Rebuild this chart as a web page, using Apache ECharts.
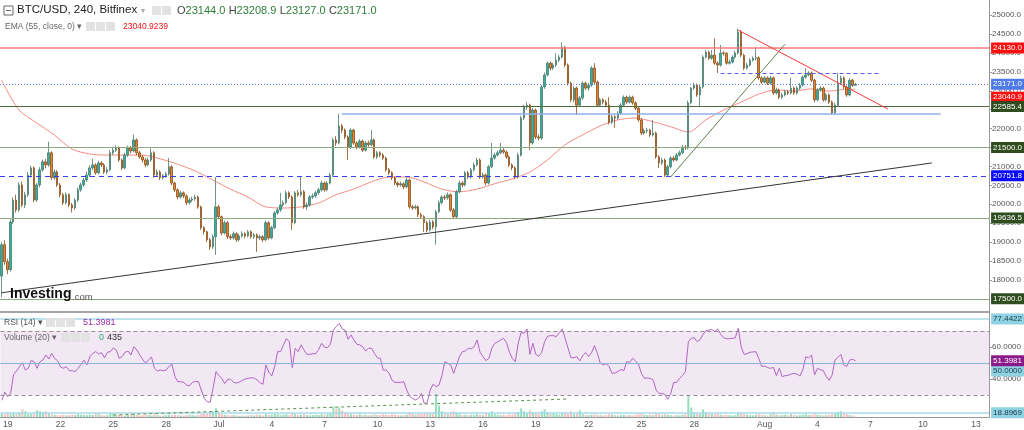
<!DOCTYPE html>
<html><head><meta charset="utf-8">
<script src="https://cdn.jsdelivr.net/npm/echarts@6/dist/echarts.min.js"></script>
<style>html,body{margin:0;padding:0;background:#fff}#c{width:1024px;height:430px}</style>
</head><body><div id="c"></div>
<script>
// ---------------- DATA ----------------
const firstOpen = 18100;
const closes = [18930,18480,18270,19530,20110,19850,20510,19980,20250,20770,
20960,20110,20510,20910,21120,21040,21360,20700,20850,20510,
20250,20040,20250,19980,19900,20110,20380,20510,20640,20770,
20960,21040,20830,21090,21040,20850,20910,21360,21430,21490,
21170,20960,21300,21490,21410,21700,21360,21250,21170,21040,
21170,21360,20770,20850,20700,20750,20800,20990,20560,20380,
20190,20300,20220,20040,20110,20140,20190,19930,19380,19270,
19060,18870,19140,19930,19670,19240,19510,19140,19110,19220,
19060,19160,19220,19160,19270,19140,19190,19110,19140,19060,
19510,19110,19380,19770,19850,19980,20040,20300,20190,19510,
20300,20250,20330,19930,19980,20190,20220,20300,20380,20560,
20380,20560,20770,21700,21620,22070,21960,21780,21510,21960,
21620,21510,21670,21430,21620,21570,21700,21250,21360,21300,
21220,20910,20830,20700,20560,20510,20540,20460,20640,19930,
19900,19930,19720,19670,19510,19320,19530,19400,19800,20040,
20190,20170,20250,19850,19670,20330,20560,20510,20830,20720,
20910,21040,21170,20720,20770,20560,20990,21220,21300,21360,
21430,21380,21250,21040,20960,20720,21300,22280,22570,22620,
21620,22490,21780,21750,23100,23420,23730,23600,23680,23810,
23890,24150,23680,23200,22760,23070,22620,22810,23200,23070,
23150,23600,23230,22620,22760,22700,22620,22170,22310,22280,
22410,22620,22830,22700,22830,22680,22540,22230,21880,21940,
21960,21830,21880,21250,21090,21170,20770,20990,21220,21170,
21300,21360,21510,21490,22680,23070,23150,22890,23100,23890,
24020,23860,23940,23730,23680,24000,23990,23730,23760,23890,
24000,24550,23940,23600,23680,23810,23860,23870,23340,23230,
23340,23200,23340,22940,23020,22830,22890,22970,22940,23070,
22940,23070,23150,23360,23420,23470,23280,22760,23020,23070,
22760,22890,22700,22410,22620,23200,23340,23100,22890,23280,
23144,23171];
const highs = [18990,19050,18560,19600,20180,20250,20580,20600,20330,20850,
21020,21000,20560,20980,21180,21200,21650,21400,20920,20900,
20560,20300,20310,20290,20030,20160,20440,20570,20700,20860,
21030,21200,21080,21150,21140,21080,20980,21430,21520,21560,
21530,21210,21360,21550,21540,21840,21740,21410,21300,21220,
21230,21480,21400,20920,20900,20800,20860,21220,21030,20600,
20420,20360,20340,20260,20170,20200,20250,20230,19960,19420,
19300,19110,19200,20720,19980,19700,19570,19550,19200,19280,
19260,19210,19280,19260,19320,19310,19240,19230,19190,19180,
19570,19550,19430,19820,19910,20300,20100,20360,20340,20230,
20350,20380,20720,20380,20050,20240,20280,20350,20430,20620,
20600,20610,20830,21760,21800,22390,22120,22000,21820,22010,
21990,21660,21720,21710,21670,21680,21960,21740,21410,21400,
21350,21260,20960,20870,20740,20600,20600,20580,20700,20680,
19980,19990,19970,19780,19710,19560,19590,19580,19850,20100,
20240,20250,20310,20290,19900,20380,20620,20620,20880,20880,
20960,21100,21230,21210,20830,20810,21040,21620,21360,21420,
21620,21480,21420,21290,21080,21000,21360,22340,22630,22700,
22660,22550,22530,21850,23150,23480,23770,23770,23740,23990,
23950,24280,24190,23720,23240,23120,23110,22860,23250,23240,
23210,23650,23730,23270,22810,22800,22760,22830,22360,22360,
22460,22670,22880,22870,22880,22870,22720,22580,22270,22000,
22020,22000,22230,21920,21300,21230,21210,21040,21270,21280,
21350,21420,21570,21560,22740,23100,23210,23190,23160,23940,
24080,24060,24080,24390,23780,24210,24050,24020,23820,23940,
24060,24650,24600,23980,23740,23860,23910,24150,23910,23380,
23390,23380,23400,23380,23080,23060,22950,23030,23020,23340,
23110,23120,23200,23410,23600,23520,23510,23320,23070,23120,
23110,22940,22930,22740,22680,23470,23400,23380,23140,23330,
23310,23208.9];
const lows = [17540,18400,18150,18220,19480,19780,19800,19920,19900,20200,
20700,20050,20060,20450,20860,20950,20990,20640,20650,20460,
20180,19980,19990,19920,19780,19850,20060,20330,20460,20590,
20720,20900,20780,20790,20980,20800,20790,20870,21300,21380,
21120,20900,20920,21250,21350,21370,21300,21200,21100,20980,
21000,21120,20700,20720,20640,20650,20700,20760,20500,20320,
20130,20150,20160,19980,19990,20060,20090,19880,19320,19200,
19000,18790,18820,18660,19600,19180,19200,19080,19050,19060,
19000,19010,19120,19100,19120,19090,19080,18740,19050,19000,
19020,19060,19070,19340,19720,19800,19930,20000,20140,19320,
19470,20200,20200,19880,19850,19940,20140,20170,20250,20330,
20330,20340,20520,20730,21540,21580,21880,21720,21170,21460,
21570,21450,21470,21380,21390,21520,21530,21200,21200,21240,
21170,20860,20770,20640,20500,20450,20470,20400,20420,19880,
19850,19860,19660,19620,19270,19260,19280,19340,18930,19760,
20000,20110,20120,19800,19610,19630,20290,20450,20470,20670,
20680,20870,21000,20670,20680,20500,20520,20950,21180,21260,
21320,21330,21200,20980,20900,20660,20680,21260,22230,22500,
21430,21580,21720,21690,21700,23050,23380,23540,23550,23630,
23760,23850,23620,23140,22700,22700,22360,22580,22760,23020,
23000,23100,23180,22570,22580,22640,22560,22110,22120,22020,
22230,22370,22580,22650,22660,22630,22490,22180,21830,21840,
21880,21780,21790,21200,20960,21040,20720,20720,20950,21120,
21130,21260,21320,21440,21450,22640,23020,22840,22570,23060,
23850,23810,23820,23690,23470,23640,23930,23690,23690,23720,
23850,23960,23890,23550,23560,23640,23770,23800,23290,23180,
23190,23150,23160,22890,22900,22780,22780,22850,22890,22900,
22890,22900,23020,23110,23320,23380,23230,22700,22720,22980,
22710,22720,22650,22360,22370,22580,23160,23050,22840,22850,
23100,23127];
const rsiValues = [26.7,31.7,29,31,42.9,45,47.7,50.2,45.6,46.7,
51.7,50.8,46.7,50.8,51.9,55,52.5,56,52.9,51.3,
47.5,46.7,47.7,45.2,45.2,44.6,46.7,49.2,51.7,48.8,
54,56,57.1,55.6,56.5,53.3,56.7,57.1,59.4,58.1,
52.9,54,56.7,57.5,55,60.2,58.1,55,52.3,49.8,
51.9,53.8,46.7,45,45.6,45.2,45.6,47.9,49.2,41.5,
38.3,38.3,37.9,36.2,35.8,37.9,38.5,38.3,33.1,27.9,
25.8,25.4,34.2,44.6,42.1,40.4,37.1,40,39.8,37.9,
37.5,38.1,39.2,40,40.4,40.8,40.6,39.4,37.7,36.7,
48.8,44.2,41.9,47.7,57.1,57.1,61.3,65.2,63.3,47.1,
59.2,57.1,61.3,58.1,55.4,55.4,55.8,55.8,58.5,62.3,
59.8,59.6,61.9,70.6,72.7,74.8,71.3,70.6,64.8,67.5,
64.4,61.7,61.3,60.2,57.5,59.2,59.2,56,53.3,52.9,
45.6,45.6,43.5,39.2,37.9,37.9,37.9,38.3,33.1,29.2,
27.9,26.9,27.9,31,24.6,25.4,33.1,36.7,35.2,36.2,
42.1,50.8,49.8,48.8,43.5,48.8,54,57.1,57.5,59.2,
58.8,60.2,64.4,56.7,54,51.5,52.9,59.2,62.3,63.3,
64.4,65.4,62.9,56.7,52.9,50.8,62.3,69.2,68.5,71.3,
55.4,62.3,55.4,54.2,56.5,63.3,66.7,67.1,67.1,66.5,
68.9,71.3,65.4,59.2,53.3,53.3,54,51.3,54.6,56.5,
54,56.5,60.8,56,49.8,48.9,49.6,47.7,43.5,43.8,
44.6,46,45.2,50.8,50.4,52.9,51.3,49.2,43.5,40.4,
40.6,40.4,39.4,33.1,31,31,30.4,27.3,31,37.9,
37.9,40.4,42.1,44.6,63.3,65.4,65.8,63.3,64.6,67.9,
70.2,70.6,71,69.6,71.3,67.9,65.8,65.2,65.2,65.4,
65.8,71.7,60.2,55.4,55.8,56.7,56.9,57.1,52.9,47.9,
48.1,47.1,46.7,47.3,42.1,46.7,41.5,42.1,42.3,43.1,
43.5,43.1,41.9,45.6,53.8,53.3,55,42.5,46.7,45.8,
45.2,41.5,39.2,42.5,51.9,53.5,55.4,48.8,47.9,51.9,
52.3,51.4];
const volumes = [20,15,25,15,20,15,25,40,30,15,
15,20,35,30,25,30,20,15,12,10,
10,12,8,10,12,10,15,12,10,10,
12,10,20,15,10,8,10,22,18,10,
12,10,8,10,12,18,10,8,10,12,
10,8,15,10,8,8,10,12,10,12,
10,8,8,10,12,10,8,12,15,20,
18,25,30,45,20,15,12,10,8,10,
8,6,8,6,8,10,8,12,10,8,
15,10,12,18,15,10,12,15,10,20,
18,10,12,15,10,8,10,12,10,15,
12,15,20,55,45,50,35,25,20,15,
12,10,15,10,12,8,10,15,10,12,
15,12,10,15,12,10,8,10,12,25,
20,12,18,15,20,25,15,20,120,60,
30,20,15,25,30,25,15,10,12,10,
12,10,15,12,10,15,20,30,15,12,
10,12,10,15,12,18,25,45,30,20,
35,25,20,15,30,40,25,15,20,15,
12,20,25,15,30,15,20,35,15,12,
10,12,15,12,10,8,10,15,12,10,
8,10,12,8,10,8,12,15,18,12,
10,12,10,20,15,10,15,12,10,8,
10,8,12,15,110,50,25,20,15,40,
25,20,15,15,20,12,10,12,10,8,
10,25,20,15,12,10,8,12,15,12,
10,8,15,25,12,10,10,12,10,15,
10,8,10,12,15,10,12,15,12,10,
8,10,12,15,20,25,30,20,15,10,
8,2];
// EMA(55) read once per day (every 6th 4h candle), plus the last value
const emaDaily = [23280,22490,22150,21830,21460,21330,21300,21300,21300,21200,
21060,20880,20640,20400,20190,19930,19900,19930,20030,20250,
20400,20590,20720,20720,20590,20400,20330,20400,20540,20670,
20850,21170,21570,21830,22070,22230,22280,22180,22050,21910,
22230,22490,22700,22910,23020,22990,23050,22990,23040];
const emaLast = 23040.9;
const tickLabels = ['19','22','25','28','Jul','4','7','10','13','16','19','22','25','28','Aug','4','7','10','13'];
const tickDayOffsets = [0,3,6,9,12,15,18,21,24,27,30,33,36,39,43,46,49,52,55];
const priceTicks = [18000,18500,19000,19500,20000,20500,21000,21500,22000,22500,23000,23500,24000,24500,25000];
const levelValues = [24130, 23171, 23040.9, 22585.4, 21500, 20751.8, 19636.5, 17500];
const levelTexts = ['24130.0','23171.0','23040.9','22585.4','21500.0','20751.8','19636.5','17500.0'];
const rsiLevels = [77.4422, 70, 50, 51.3981, 30, 18.8969];
// drawings: [startIndex, startValue, endIndex, endValue]
const supportLine = [0, 17658, 317, 21091];
const riseLine = [228, 20721, 267, 24234];
const fallLine = [251, 24604, 302, 22517];
const rangeTop = [245, 23468, 299, 23468];
const julyHigh = [116, 22385, 320, 22385];
const volTrend = [38, 17.5, 193, 27.5];

// ---------------- BUILD ----------------
const SLOTS = 337;
const cats = [];
const t0 = Date.UTC(2022, 5, 18, 16);
for (let i = 0; i < SLOTS; i++) cats.push(new Date(t0 + i * 4 * 3600e3).toISOString().slice(0, 16));
const labelMap = {};
tickDayOffsets.forEach((d, i) => { labelMap[2 + 6 * d] = tickLabels[i]; });

const candleData = closes.map((c, i) => {
  const o = i === 0 ? firstOpen : closes[i - 1];
  return [o, c, lows[i], highs[i]];
});
const emaData = new Array(closes.length).fill(null);
emaDaily.forEach((v, j) => { emaData[j * 6] = v; });
emaData[closes.length - 1] = emaLast;
const volData = volumes.map((v, i) => {
  const up = candleData[i][1] >= candleData[i][0];
  return { value: v, itemStyle: { color: up ? 'rgba(40,190,120,0.5)' : 'rgba(245,110,110,0.45)' } };
});

const FONT = 'Liberation Sans, Arial, sans-serif';
const HIDDEN = { color: 'rgba(0,0,0,0)', width: 1 };
const badge = (text, bg, fg, off) => ({
  show: true, position: 'end', distance: 2, formatter: text,
  backgroundColor: bg, color: fg || '#fff', fontSize: 8, fontFamily: FONT,
  padding: [2, 2, 1, 2], offset: off || [0, 0]
});
const levelStyles = [
  { line: { color: '#ff7b7b', width: 1.5, type: 'solid' }, bg: '#ff1010' },
  { line: { color: '#5a78e6', width: 1, type: [1, 2] }, bg: '#4f7be8' },
  { line: HIDDEN, bg: '#ff1010', off: [0, 8] },
  { line: { color: '#4d6b3c', width: 1.2, type: 'solid' }, bg: '#2f4d1f' },
  { line: { color: '#8fa97f', width: 1.2, type: 'solid' }, bg: '#2f4d1f' },
  { line: { color: '#3b3bf0', width: 1.2, type: [5, 4] }, bg: '#0a0aff' },
  { line: { color: '#8fa97f', width: 1.2, type: 'solid' }, bg: '#2f4d1f' },
  { line: { color: '#8fa97f', width: 1.2, type: 'solid' }, bg: '#2f4d1f' }
];
const priceMarks = levelValues.map((v, i) => ({
  yAxis: v, lineStyle: levelStyles[i].line,
  label: badge(levelTexts[i], levelStyles[i].bg, '#fff', levelStyles[i].off)
}));
const seg = (s, style) => [
  { coord: [s[0], s[1]], lineStyle: style, label: { show: false } },
  { coord: [s[2], s[3]] }
];
priceMarks.push(seg(supportLine, { color: '#333', width: 1, type: 'solid' }));
priceMarks.push(seg(riseLine, { color: '#5e7f4a', width: 1, type: 'solid' }));
priceMarks.push(seg(fallLine, { color: '#f03a3a', width: 1, type: 'solid' }));
priceMarks.push(seg(rangeTop, { color: '#5a5af0', width: 1, type: [4, 3] }));
priceMarks.push(seg(julyHigh, { color: '#8fb0ee', width: 1.5, type: 'solid' }));

const rsiStyles = [
  { line: { color: '#a8dbe8', width: 1.5, type: 'solid' }, bg: '#8fd2e2', fg: '#1a3a4a' },
  { line: { color: '#9a8a9a', width: 1, type: [4, 3] }, nolabel: true },
  { line: { color: '#8ab4df', width: 1, type: 'solid' }, bg: '#8fd2e2', fg: '#1a3a4a', off: [0, 8] },
  { line: HIDDEN, bg: '#8a1a8a', fg: '#fff' },
  { line: { color: '#9a8a9a', width: 1, type: [4, 3] }, nolabel: true },
  { line: { color: '#a8dbe8', width: 1.5, type: 'solid' }, bg: '#8fd2e2', fg: '#1a3a4a' }
];
const rsiMarks = rsiLevels.map((v, i) => ({
  yAxis: v, lineStyle: rsiStyles[i].line,
  label: rsiStyles[i].nolabel ? { show: false } : badge(v.toFixed(4), rsiStyles[i].bg, rsiStyles[i].fg, rsiStyles[i].off)
}));
rsiMarks.push(seg(volTrend, { color: '#5f8f4f', width: 1, type: [3, 3] }));

const chart = echarts.init(document.getElementById('c'), null, { renderer: 'canvas' });
const smallIcon = (x, y) => ({ type: 'rect', shape: { x: x, y: y, width: 9, height: 9 }, style: { fill: '#e2e2e2' }, z: 100 });
chart.setOption({
  animation: false,
  textStyle: { fontFamily: FONT },
  grid: [
    { left: 0, right: 34, top: 0, height: 312 },
    { left: 0, right: 34, top: 312, height: 105 }
  ],
  xAxis: [
    { type: 'category', gridIndex: 0, data: cats, boundaryGap: true,
      axisLine: { show: true, lineStyle: { color: '#888', width: 1.5 } },
      axisTick: { show: false }, axisLabel: { show: false }, splitLine: { show: false } },
    { type: 'category', gridIndex: 1, data: cats, boundaryGap: true,
      axisLine: { show: true, lineStyle: { color: '#999' } }, axisTick: { show: false },
      axisLabel: { interval: (i) => labelMap[i] !== undefined, formatter: (v, i) => labelMap[i] || '',
        color: '#555', fontSize: 8.5, margin: 3, fontFamily: FONT },
      splitLine: { show: false } }
  ],
  yAxis: [
    { type: 'value', gridIndex: 0, position: 'right', min: 17150, max: 25400,
      axisLine: { show: true, lineStyle: { color: '#999' } },
      axisTick: { show: true, length: 3, customValues: priceTicks, lineStyle: { color: '#999' } },
      axisLabel: { customValues: priceTicks, formatter: (v) => v.toFixed(1), color: '#555', fontSize: 8, margin: 3, fontFamily: FONT },
      splitLine: { show: false } },
    { type: 'value', gridIndex: 1, position: 'right', min: 16.25, max: 81.875,
      axisLine: { show: true, lineStyle: { color: '#999' } },
      axisTick: { show: true, length: 3, customValues: [40, 60], lineStyle: { color: '#999' } },
      axisLabel: { customValues: [40, 60], formatter: (v) => v.toFixed(4), color: '#555', fontSize: 8, margin: 3, fontFamily: FONT },
      splitLine: { show: false } },
    { type: 'value', gridIndex: 1, min: 0, max: 550, show: false }
  ],
  series: [
    { type: 'bar', xAxisIndex: 1, yAxisIndex: 2, data: volData, barWidth: 2, silent: true, z: 1 },
    { type: 'line', xAxisIndex: 1, yAxisIndex: 1, data: rsiValues, symbol: 'none', silent: true, z: 3,
      lineStyle: { color: '#b164c2', width: 1 },
      markArea: { silent: true, itemStyle: { color: 'rgba(196,150,205,0.22)' }, data: [[{ yAxis: 30 }, { yAxis: 70 }]] },
      markLine: { silent: true, symbol: ['none', 'none'], animation: false, data: rsiMarks } },
    { type: 'line', xAxisIndex: 0, yAxisIndex: 0, data: emaData, connectNulls: true, symbol: 'none', silent: true,
      smooth: 0.3, lineStyle: { color: '#f58a84', width: 1 }, z: 2 },
    { type: 'candlestick', xAxisIndex: 0, yAxisIndex: 0, data: candleData, barWidth: 2, silent: true, z: 3,
      itemStyle: { color: '#2bb5a0', color0: '#e3862c', borderColor: '#4e7a6c', borderColor0: '#8a4e1c', borderWidth: 0.8 },
      markLine: { silent: true, symbol: ['none', 'none'], animation: false, data: priceMarks } }
  ],
  graphic: [
    { type: 'rect', shape: { x: 4, y: 6, width: 9, height: 9 }, style: { fill: '#fff', stroke: '#666', lineWidth: 1 }, z: 100 },
    { type: 'rect', shape: { x: 6, y: 10, width: 5, height: 1 }, style: { fill: '#666' }, z: 100 },
    { type: 'text', x: 17, y: 4, z: 100, style: { text: 'BTC/USD, 240, Bitfinex', fontSize: 11.5, fontFamily: FONT, fill: '#222' } },
    { type: 'text', x: 141, y: 7, z: 100, style: { text: '▾', fontSize: 8, fill: '#aaa' } },
    smallIcon(152, 6), smallIcon(162, 6),
    { type: 'text', x: 177, y: 5, z: 100, style: { text: '{k|O}{v|23144.0} {k|H}{v|23208.9} {k|L}{v|23127.0} {k|C}{v|23171.0}',
      fontFamily: FONT, rich: { k: { fontSize: 11, fill: '#444' }, v: { fontSize: 11, fill: '#2e7d3a' } } } },
    { type: 'text', x: 5, y: 22, z: 100, style: { text: 'EMA (55, close, 0) ▾', fontSize: 8.5, fontFamily: FONT, fill: '#666' } },
    smallIcon(86, 22), smallIcon(96, 22), smallIcon(106, 22),
    { type: 'text', x: 123, y: 22, z: 100, style: { text: '23040.9239', fontSize: 8.5, fontFamily: FONT, fill: '#f01010' } },
    { type: 'text', x: 10, y: 287, z: 100, style: { text: 'Investing', fontSize: 14, fontWeight: 'bold', fontFamily: FONT, fill: '#111' } },
    { type: 'text', x: 72, y: 292, z: 100, style: { text: '.com', fontSize: 9.5, fontFamily: FONT, fill: '#555' } },
    { type: 'text', x: 4, y: 318, z: 100, style: { text: 'RSI (14) ▾', fontSize: 8.5, fontFamily: FONT, fill: '#555' } },
    smallIcon(46, 318), smallIcon(56, 318), smallIcon(66, 318),
    { type: 'text', x: 83, y: 318, z: 100, style: { text: '51.3981', fontSize: 9, fontFamily: FONT, fill: '#a02ca8' } },
    { type: 'text', x: 4, y: 333, z: 100, style: { text: 'Volume (20) ▾', fontSize: 8.5, fontFamily: FONT, fill: '#666' } },
    smallIcon(61, 333), smallIcon(71, 333), smallIcon(81, 333),
    { type: 'text', x: 99, y: 333, z: 100, style: { text: '0', fontSize: 9, fontFamily: FONT, fill: '#2db37a' } },
    { type: 'text', x: 107, y: 333, z: 100, style: { text: '435', fontSize: 9, fontFamily: FONT, fill: '#333' } }
  ]
});
</script>
</body></html>
